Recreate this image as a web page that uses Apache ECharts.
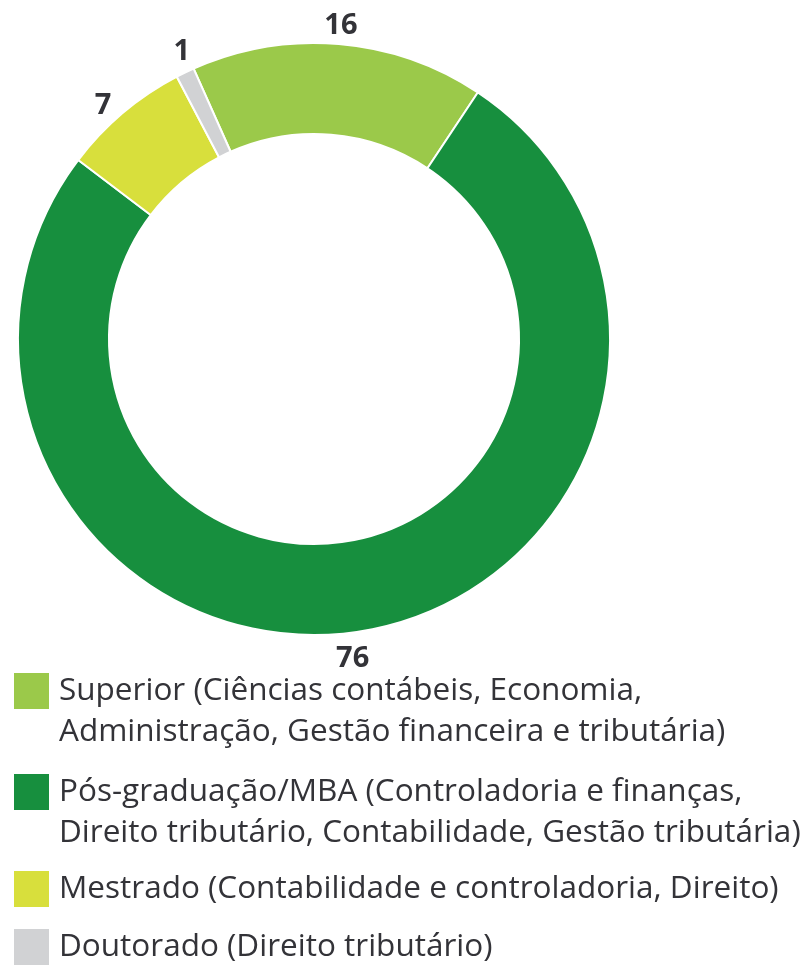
<!DOCTYPE html>
<html>
<head>
<meta charset="utf-8">
<script src="https://cdn.jsdelivr.net/npm/echarts@6/dist/echarts.min.js"></script>
<style>
  html, body { margin: 0; padding: 0; background: #fff; }
  #chart { width: 804px; height: 967px; }
</style>
</head>
<body>
<div id="chart"></div>
<script>
// formação acadêmica (%)
const categories = ['Superior', 'Pós-graduação/MBA', 'Mestrado', 'Doutorado']
const values = [16, 76, 7, 1]
const details = [
  'Superior (Ciências contábeis, Economia,\nAdministração, Gestão financeira e tributária)',
  'Pós-graduação/MBA (Controladoria e finanças,\nDireito tributário, Contabilidade, Gestão tributária)',
  'Mestrado (Contabilidade e controladoria, Direito)',
  'Doutorado (Direito tributário)'
]
const colors = ['#9bc94a', '#178f3e', '#d8df3c', '#d1d2d4']
// pequenos ajustes dos rótulos
const labelOffsets = [[0, 8], [-15, 2], [-3, 13], [8, 3]]

const lineH = 41
const textColor = '#333338'

function legendFor(i, top) {
  return {
    data: [categories[i]],
    orient: 'vertical',
    left: 12,
    top: top,
    padding: 0,
    icon: 'rect',
    itemWidth: 37,
    itemHeight: 38,
    selectedMode: false,
    formatter: function(name) {
      let txt = details[categories.indexOf(name)]
      // linha vazia em cima para alinhar a 1a linha com o quadrado
      if (txt.indexOf('\n') >= 0) txt = '\n' + txt
      return txt
    },
    textStyle: {
      fontFamily: 'Open Sans',
      fontSize: 31.5,
      color: textColor,
      lineHeight: lineH,
      padding: [0, 0, 0, 4]
    }
  }
}

const pieData = categories.map((name, i) => ({
  name: name,
  value: values[i],
  itemStyle: { color: colors[i] }
}))

const chart = echarts.init(document.getElementById('chart'), null, { renderer: 'canvas' })
chart.setOption({
  animation: false,
  legend: [
    legendFor(0, 629.5),
    legendFor(1, 730.5),
    legendFor(2, 868.5),
    legendFor(3, 926.5)
  ],
  series: [
    {
      type: 'pie',
      center: [314, 339],
      radius: [205, 296],
      startAngle: 114,
      clockwise: true,
      avoidLabelOverlap: false,
      silent: true,
      itemStyle: { borderColor: '#fff', borderWidth: 2 },
      label: { show: false },
      labelLine: { show: false },
      data: pieData
    },
    {
      // anel invisível só para posicionar os rótulos fora do anel
      type: 'pie',
      center: [314, 339],
      radius: [296, 342],
      startAngle: 114,
      clockwise: true,
      avoidLabelOverlap: false,
      silent: true,
      itemStyle: { color: 'rgba(0,0,0,0)' },
      label: {
        show: true,
        position: 'inside',
        formatter: '{c}',
        fontFamily: 'Open Sans',
        fontWeight: 'bold',
        fontSize: 29,
        color: textColor
      },
      labelLine: { show: false },
      data: categories.map((name, i) => ({
        name: name,
        value: values[i],
        label: { offset: labelOffsets[i] }
      }))
    }
  ]
})
</script>
</body>
</html>
